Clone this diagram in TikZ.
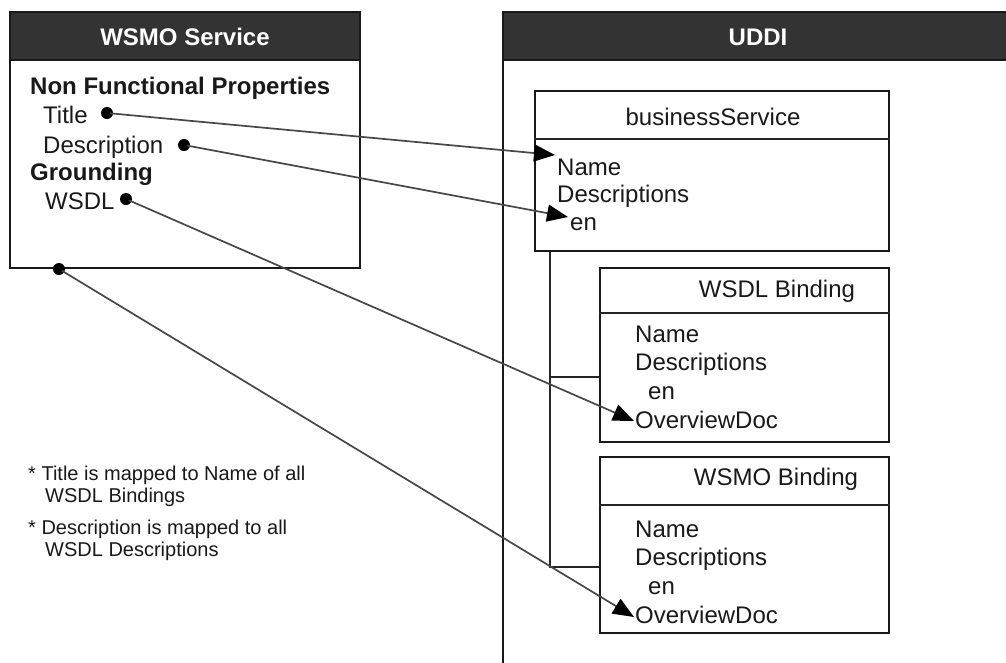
\documentclass[tikz,border=0pt]{standalone}
\usepackage{fontspec}
\setmainfont{Liberation Sans}
\usetikzlibrary{arrows.meta}

\tikzset{
  box/.style={draw=black!90, line width=1.6pt, inner sep=0pt},
  head/.style={draw=black!90, fill=black!80, line width=1.6pt, inner sep=0pt},
  item/.style={anchor=base west, inner sep=0pt, text=black!90, font=\fontsize{24}{28}\selectfont},
  bolditem/.style={item, font=\fontsize{24}{28}\selectfont\bfseries},
  title/.style={item, anchor=base},
  dot/.style={circle, fill=black, inner sep=0pt, minimum size=12pt},
  link/.style={-{Triangle[length=21pt,width=17pt,fill=black,color=black]}, line width=1.7pt, draw=black!72, shorten <=-3pt},
  tree/.style={line width=1.6pt, draw=black!85},
  note/.style={anchor=base west, inner sep=0pt, align=left, text=black!90, font=\fontsize{20}{22}\selectfont}
}

\begin{document}
\begin{tikzpicture}[x=1pt, y=-1pt]
      \useasboundingbox (0,0) rectangle (1006,662);
      \clip (0,0) rectangle (1006,662);

      %%%%%%%%%%%%%%%%%%%%%%%%%%%%%%%%%%%%%%%%%%%%%%%%%%%%%%%%%%%%%%
      % WSMO service
      %%%%%%%%%%%%%%%%%%%%%%%%%%%%%%%%%%%%%%%%%%%%%%%%%%%%%%%%%%%%%%
      \draw (185, 140) node [box, minimum width=350pt, minimum height=256pt] (wsmo) {};
      \draw (185, 36) node [head, minimum width=350pt, minimum height=48pt] (wsmo_head) {};
      \draw (185, 45) node [title, text=white, font=\fontsize{24}{28}\selectfont\bfseries] (wsmo_title) {WSMO Service};

      \draw (30, 94) node [bolditem] (nfp) {Non Functional Properties};
      \draw (43, 123) node [item] (title) {Title};
      \draw (43, 153) node [item] (descr) {Description};
      \draw (30, 180) node [bolditem] (grounding) {Grounding};
      \draw (45, 209) node [item] (wsdl) {WSDL};

      \draw (107, 113) node [dot] (title_dot) {};
      \draw (184, 145) node [dot] (descr_dot) {};
      \draw (126, 199) node [dot] (wsdl_dot) {};
      \draw (59, 269) node [dot] (service_dot) {};

      %%%%%%%%%%%%%%%%%%%%%%%%%%%%%%%%%%%%%%%%%%%%%%%%%%%%%%%%%%%%%%
      % UDDI
      %%%%%%%%%%%%%%%%%%%%%%%%%%%%%%%%%%%%%%%%%%%%%%%%%%%%%%%%%%%%%%
      \draw (758, 356) node [box, minimum width=510pt, minimum height=688pt] (uddi) {};
      \draw (758, 36) node [head, minimum width=510pt, minimum height=48pt] (uddi_head) {};
      \draw (758, 45) node [title, text=white, font=\fontsize{24}{28}\selectfont\bfseries] (uddi_title) {UDDI};

      % businessService
      \draw (712, 171) node [box, minimum width=354pt, minimum height=160pt] (bservice) {};
      \draw [tree] (bservice.west |- 0, 139) -- (bservice.east |- 0, 139);
      \draw (713, 125) node [title] (bservice_title) {businessService};
      \draw (557, 175) node [item] (bs_name) {Name};
      \draw (557, 202) node [item] (bs_descr) {Descriptions};
      \draw (570, 230) node [item] (bs_en) {en};

      % WSDL binding
      \draw (744.5, 355) node [box, minimum width=289pt, minimum height=174pt] (wsdl_bind) {};
      \draw [tree] (wsdl_bind.west |- 0, 313) -- (wsdl_bind.east |- 0, 313);
      \draw (777, 297) node [title] (wsdl_bind_title) {WSDL Binding};
      \draw (635, 342) node [item] (wb_name) {Name};
      \draw (635, 370) node [item] (wb_descr) {Descriptions};
      \draw (648, 399) node [item] (wb_en) {en};
      \draw (635, 428) node [item] (wb_doc) {OverviewDoc};

      % WSMO binding
      \draw (744.5, 545) node [box, minimum width=289pt, minimum height=176pt] (wsmo_bind) {};
      \draw [tree] (wsmo_bind.west |- 0, 505) -- (wsmo_bind.east |- 0, 505);
      \draw (776, 485) node [title] (wsmo_bind_title) {WSMO Binding};
      \draw (635, 537) node [item] (mb_name) {Name};
      \draw (635, 565) node [item] (mb_descr) {Descriptions};
      \draw (648, 594) node [item] (mb_en) {en};
      \draw (635, 623) node [item] (mb_doc) {OverviewDoc};

      % tree
      \coordinate (trunk_top) at ([xshift=16pt]bservice.south west);
      \coordinate (wsdl_branch) at ([yshift=-22pt]wsdl_bind.west);
      \coordinate (wsmo_branch) at ([yshift=-22pt]wsmo_bind.west);
      \draw [tree] (trunk_top) |- (wsmo_branch);
      \draw [tree] (trunk_top |- wsdl_branch) -- (wsdl_branch);

      %%%%%%%%%%%%%%%%%%%%%%%%%%%%%%%%%%%%%%%%%%%%%%%%%%%%%%%%%%%%%%
      % Mappings
      %%%%%%%%%%%%%%%%%%%%%%%%%%%%%%%%%%%%%%%%%%%%%%%%%%%%%%%%%%%%%%
      \coordinate (name_in) at (555, 155);
      \coordinate (en_in) at (568, 217);
      \coordinate (wb_doc_in) at (634, 421);
      \coordinate (mb_doc_in) at (634, 617);
      \draw [link] (title_dot) -- (name_in);
      \draw [link] (descr_dot) -- (en_in);
      \draw [link] (wsdl_dot) -- (wb_doc_in);
      \draw [link] (service_dot) -- (mb_doc_in);

      % notes (base = last line)
      \draw (28, 502) node [note] (note_title) {* Title is mapped to Name of all\\\hspace*{17pt}WSDL Bindings};
      \draw (28, 556) node [note] (note_descr) {* Description is mapped to all\\\hspace*{17pt}WSDL Descriptions};
\end{tikzpicture}
\end{document}
